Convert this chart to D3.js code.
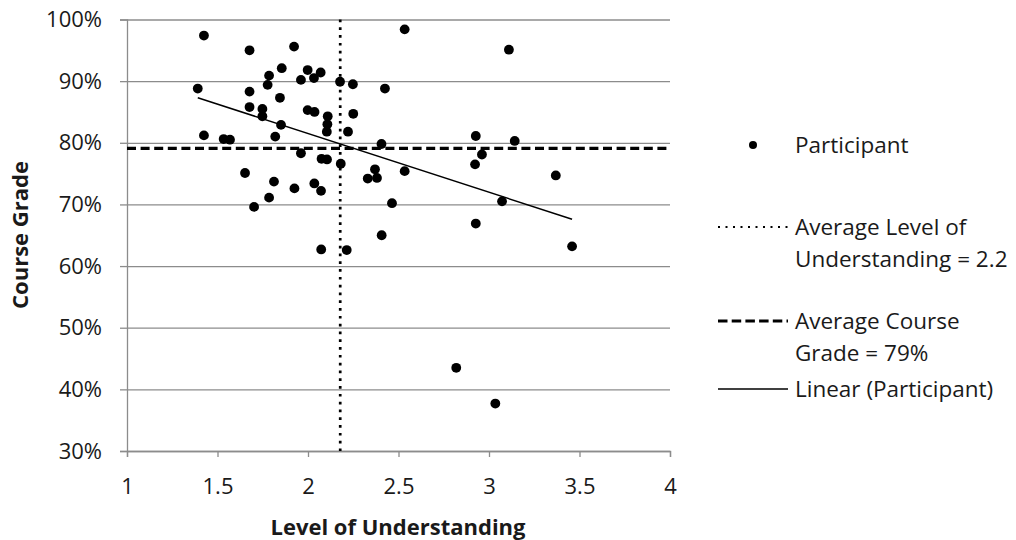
<html>
<head>
<meta charset="utf-8">
<script src="https://cdn.jsdelivr.net/npm/d3@7"></script>
<style>
  body { margin: 0; background: #fff; }
  text { font-family: "Open Sans", sans-serif; fill: #1a1a1a; }
  .tick text { font-size: 22px; }
  .axis-title { font-size: 22px; font-weight: bold; }
  .legend text { font-size: 22.5px; }
</style>
</head>
<body>
<svg width="1016" height="540"></svg>
<script>
// Data: level of understanding (x) and course grade (y) per participant
var understanding = [1.425, 1.677, 1.923, 1.855, 1.998, 1.785, 2.070, 2.033, 1.961, 1.391,
                     1.777, 2.177, 2.248, 2.425, 1.677, 1.845, 1.677, 1.748, 1.748, 1.998,
                     2.036, 2.109, 2.250, 2.107, 1.851, 2.104, 2.221, 1.425, 1.534, 1.569,
                     1.819, 2.406, 1.961, 2.075, 2.105, 2.181, 2.370, 2.330, 2.381, 1.652,
                     1.812, 2.035, 1.925, 2.072, 1.785, 1.702, 2.464, 2.407, 2.073, 2.214,
                     2.534, 3.110, 2.927, 3.142, 2.961, 2.923, 3.369, 2.534, 3.072, 2.927,
                     3.459, 2.819, 3.035];
var grade = [0.974, 0.950, 0.956, 0.921, 0.918, 0.909, 0.914, 0.905, 0.902, 0.888,
             0.894, 0.899, 0.895, 0.888, 0.883, 0.873, 0.858, 0.855, 0.843, 0.853,
             0.850, 0.843, 0.847, 0.830, 0.829, 0.818, 0.818, 0.812, 0.806, 0.805,
             0.810, 0.798, 0.783, 0.774, 0.773, 0.766, 0.757, 0.742, 0.743, 0.751,
             0.737, 0.734, 0.726, 0.722, 0.711, 0.696, 0.702, 0.650, 0.627, 0.626,
             0.984, 0.951, 0.811, 0.803, 0.781, 0.765, 0.747, 0.754, 0.705, 0.669,
             0.632, 0.435, 0.377];
var avgUnderstanding = 2.178;
var avgGrade = 0.791;
var xTicks = [1, 1.5, 2, 2.5, 3, 3.5, 4];
var yTicks = [0.3, 0.4, 0.5, 0.6, 0.7, 0.8, 0.9, 1.0];
var legendLabels = [["Participant"], ["Average Level of", "Understanding = 2.2"],
                    ["Average Course", "Grade = 79%"], ["Linear (Participant)"]];

var points = understanding.map(function(d, i) { return { x: d, y: grade[i] }; });

var svg = d3.select("svg");
var grey = "#8c8c8c";

var x = d3.scaleLinear().domain([1, 4]).range([127, 670]);
var y = d3.scaleLinear().domain([0.3, 1.0]).range([451, 19.5]);

// gridlines
svg.append("g")
    .attr("transform", "translate(127,0)")
    .call(d3.axisLeft(y).tickValues(yTicks).tickSize(-(670 - 127)).tickFormat(""))
    .call(function(g) {
        g.select(".domain").remove();
        g.selectAll("line").attr("stroke", grey).attr("stroke-width", 1.3);
    });

// axes
svg.append("g")
    .attr("transform", "translate(127,0)")
    .call(d3.axisLeft(y).tickValues(yTicks).tickSize(7).tickPadding(18).tickFormat(d3.format(".0%")))
    .call(function(g) {
        g.select(".domain").attr("stroke", grey).attr("stroke-width", 1.3);
        g.selectAll("line").attr("stroke", grey).attr("stroke-width", 1.3);
        g.selectAll("text").attr("font-family", null).attr("font-size", null);
    });

svg.append("g")
    .attr("transform", "translate(0,451)")
    .call(d3.axisBottom(x).tickValues(xTicks).tickSize(6).tickPadding(21).tickFormat(d3.format("")))
    .call(function(g) {
        g.select(".domain").attr("stroke", grey).attr("stroke-width", 1.3);
        g.selectAll("line").attr("stroke", grey).attr("stroke-width", 1.3);
        g.selectAll("text").attr("font-family", null).attr("font-size", null);
    });

// axis titles
svg.append("text").attr("class", "axis-title")
    .attr("x", 398).attr("y", 535).attr("text-anchor", "middle")
    .text("Level of Understanding");
svg.append("text").attr("class", "axis-title")
    .attr("transform", "translate(28,235) rotate(-90)").attr("text-anchor", "middle")
    .text("Course Grade");

// average lines
svg.append("line")
    .attr("x1", x(avgUnderstanding)).attr("x2", x(avgUnderstanding))
    .attr("y1", y(1.0)).attr("y2", y(0.3))
    .attr("stroke", "#000").attr("stroke-width", 2.7).attr("stroke-dasharray", "2.7,5.1");
svg.append("line")
    .attr("x1", x(1)).attr("x2", x(4))
    .attr("y1", y(avgGrade)).attr("y2", y(avgGrade))
    .attr("stroke", "#000").attr("stroke-width", 3.2).attr("stroke-dasharray", "9,4.6");

// linear trend line (least squares)
var mx = d3.mean(points, function(d) { return d.x; });
var my = d3.mean(points, function(d) { return d.y; });
var slope = d3.sum(points, function(d) { return (d.x - mx) * (d.y - my); }) /
            d3.sum(points, function(d) { return (d.x - mx) * (d.x - mx); });
var xExt = d3.extent(points, function(d) { return d.x; });
svg.append("line")
    .attr("x1", x(xExt[0])).attr("y1", y(my + slope * (xExt[0] - mx)))
    .attr("x2", x(xExt[1])).attr("y2", y(my + slope * (xExt[1] - mx)))
    .attr("stroke", "#000").attr("stroke-width", 1.5);

// participants
svg.append("g").selectAll("circle")
    .data(points)
    .enter().append("circle")
    .attr("cx", function(d) { return x(d.x); })
    .attr("cy", function(d) { return y(d.y); })
    .attr("r", 4.9)
    .attr("fill", "#000");

// legend
var legend = svg.append("g").attr("class", "legend");
var legendY = [145, 227, 321, 389];
legend.append("circle").attr("cx", 753).attr("cy", legendY[0]).attr("r", 4).attr("fill", "#000");
legend.append("line").attr("x1", 718).attr("x2", 788).attr("y1", legendY[1]).attr("y2", legendY[1])
    .attr("stroke", "#000").attr("stroke-width", 2).attr("stroke-dasharray", "2,5.5");
legend.append("line").attr("x1", 718).attr("x2", 788).attr("y1", legendY[2]).attr("y2", legendY[2])
    .attr("stroke", "#000").attr("stroke-width", 3).attr("stroke-dasharray", "9.5,4.2");
legend.append("line").attr("x1", 718).attr("x2", 788).attr("y1", legendY[3]).attr("y2", legendY[3])
    .attr("stroke", "#000").attr("stroke-width", 1.5);

legendLabels.forEach(function(lines, i) {
    var t = legend.append("text").attr("x", 795).attr("y", legendY[i] + 8);
    lines.forEach(function(s, j) {
        t.append("tspan").attr("x", 795).attr("dy", j === 0 ? 0 : 32).text(s);
    });
});
</script>
</body>
</html>
